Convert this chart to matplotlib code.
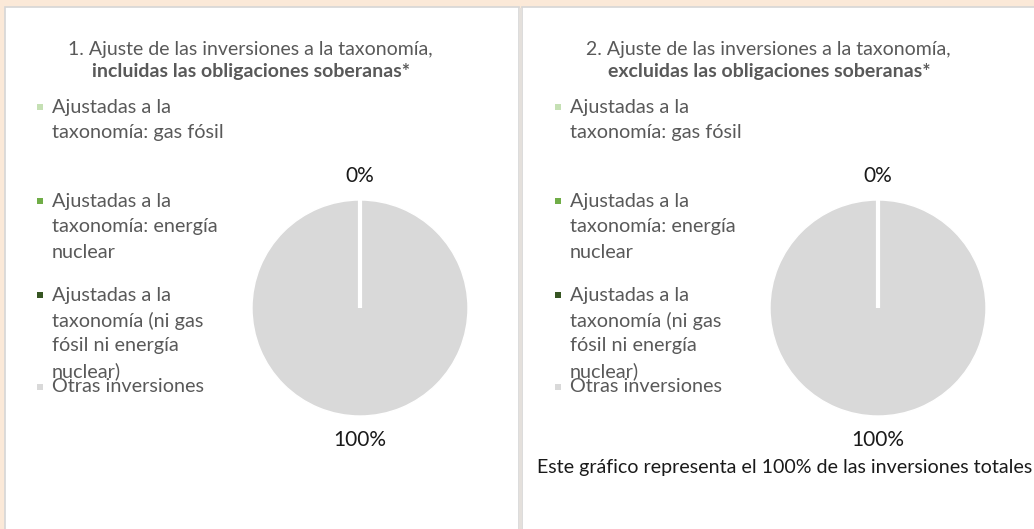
import numpy as np
import matplotlib.pyplot as plt
from matplotlib.patches import Rectangle

# Datos
categorias = [
    "Ajustadas a la\ntaxonomía: gas fósil",
    "Ajustadas a la\ntaxonomía: energía\nnuclear",
    "Ajustadas a la\ntaxonomía (ni gas\nfósil ni energía\nnuclear)",
    "Otras inversiones",
]
incluidas = [0, 0, 0, 100]
excluidas = [0, 0, 0, 100]
titulos = [
    ("1. Ajuste de las inversiones a la taxonomía,", "incluidas las obligaciones soberanas*"),
    ("2. Ajuste de las inversiones a la taxonomía,", "excluidas las obligaciones soberanas*"),
]
nota = "Este gráfico representa el 100% de las inversiones totales"

colores = ["#C5E0B4", "#70AD47", "#375623", "#D9D9D9"]
FONDO = "#FBE9D8"
GRIS_TXT = "#595959"
FUENTE = ["Lato", "DejaVu Sans"]

W, H = 1034, 529
fig = plt.figure(figsize=(W / 100, H / 100), dpi=100, facecolor=FONDO)

# capa de fondo en pixeles
bg = fig.add_axes([0, 0, 1, 1])
bg.set_xlim(0, W)
bg.set_ylim(H, 0)
bg.axis("off")

# paneles blancos
bg.add_patch(Rectangle((5, 7), 514, 530, facecolor="white", edgecolor="#D6D6D6", lw=1.2))
bg.add_patch(Rectangle((522, 7), 520, 530, facecolor="white", edgecolor="#D6D6D6", lw=1.2))
bg.add_patch(Rectangle((519, 7.5), 3, 530, facecolor="#E4E0DC", edgecolor="none"))

offsets = [0, 518]
series = [incluidas, excluidas]

for k, (dx, valores) in enumerate(zip(offsets, series)):
    # titulo
    l1, l2 = titulos[k]
    bg.text(250 + dx, 49, l1, ha="center", va="center", fontsize=14,
            color=GRIS_TXT, family=FUENTE)
    bg.text(251 + dx, 72, l2, ha="center", va="center", fontsize=14,
            color=GRIS_TXT, family=FUENTE, fontweight="bold")

    # leyenda
    y_items = [107, 201, 295, 387]
    for etiqueta, color, y0 in zip(categorias, colores, y_items):
        bg.add_patch(Rectangle((37 + dx, y0 - 3), 6, 6, facecolor=color, edgecolor="none"))
        for i, linea in enumerate(etiqueta.split("\n")):
            bg.text(52 + dx, y0 + i * 25.5, linea, ha="left", va="center",
                    fontsize=14.3, color=GRIS_TXT, family=FUENTE)

    # tarta
    cx, cy, r = 360 + dx, 308, 108
    ax = fig.add_axes([(cx - r) / W, 1 - (cy + r) / H, 2 * r / W, 2 * r / H])
    wedges, textos, autotextos = ax.pie(
        valores, colors=colores, startangle=90, counterclock=False,
        wedgeprops=dict(edgecolor="white", linewidth=1),
        autopct=lambda p: f"{p:.0f}%", pctdistance=1.22,
        textprops=dict(fontsize=15, color="#1A1A1A", family=FUENTE),
    )
    # las etiquetas 0% coinciden: se deja solo una visible
    for t in autotextos[:2]:
        t.set_visible(False)
    # separador blanco en el borde de inicio de las porciones
    ang = np.deg2rad(wedges[0].theta2)
    ax.plot([0, np.cos(ang)], [0, np.sin(ang)], color="white", lw=3, solid_capstyle="butt")
    ax.set_xlim(-1, 1)
    ax.set_ylim(-1, 1)
    ax.set_aspect("equal")

bg.text(537, 468, nota, ha="left", va="center", fontsize=14.1, color="#1A1A1A", family=FUENTE)

plt.savefig("out.png", dpi=100, facecolor=FONDO)
